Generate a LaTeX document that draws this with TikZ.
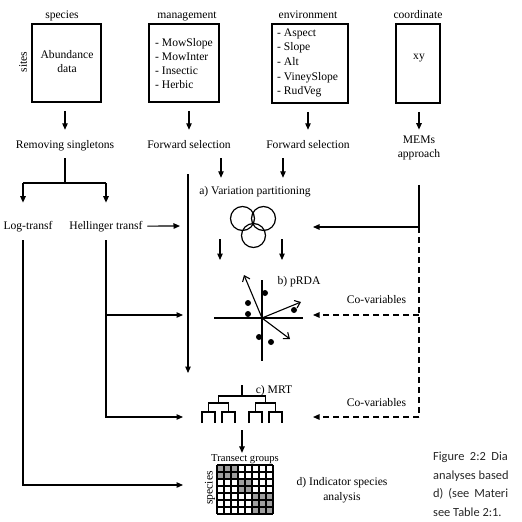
\documentclass[tikz,border=0pt]{standalone}
\usepackage{fontspec}
\setmainfont{Liberation Serif}
\newfontfamily\capfont{Carlito}
\usetikzlibrary{arrows.meta,calc}
\begin{document}
\begin{tikzpicture}[x=1pt,y=-1pt,
  lbl/.style={font=\fontsize{11.6}{14.3}\selectfont, inner sep=0pt},
  lblb/.style={font=\fontsize{11.6}{14.6}\selectfont, inner sep=0pt},
  small/.style={font=\fontsize{10.6}{12}\selectfont, inner sep=0pt},
  captext/.style={font=\capfont\fontsize{12.4}{15}\selectfont, inner sep=0pt, anchor=base west, text=black!85},
  databox/.style={draw, line width=1.8pt, inner sep=0pt},
  ln/.style={line width=1.2pt},
  arr/.style={line width=1.2pt, -{Triangle[length=6.5pt,width=5.5pt]}},
  barb/.style={line width=1.1pt, -{Straight Barb[length=5pt,width=8pt]}},
  dsh/.style={dash pattern=on 6pt off 4pt},
  circ/.style={circle, draw, line width=1.2pt, minimum size=24pt, inner sep=0pt},
  dot/.style={circle, fill=black, minimum size=6pt, inner sep=0pt},
  cell/.style={fill=black!38}
]
\useasboundingbox (0,0) rectangle (522,522);

% ---- headers
\node[lbl,anchor=base] (hsp) at (62,18) {species};
\node[lbl,anchor=base] (hmg) at (187,18) {management};
\node[lbl,anchor=base] (hen) at (308,18) {environment};
\node[lbl,anchor=base] (hco) at (418,18) {coordinate};

% ---- data boxes
\node[databox, minimum width=69pt, minimum height=78pt] (spbox) at (66.5,63) {};
\node[lbl,align=center] (abd) at (67,61.5) {Abundance\\data};
\node[lbl,rotate=90] (sites) at (23,62) {sites};

\node[databox, minimum width=70pt, minimum height=78pt] (mgbox) at (184,63) {};
\node[lbl,align=left,anchor=west] (mgl) at (155,63.5) {- MowSlope\\- MowInter\\- Insectic\\- Herbic};

\node[databox, minimum width=76pt, minimum height=79pt] (enbox) at (310,63.5) {};
\node[lblb,align=left,anchor=west] (enl) at (277,63) {- Aspect\\- Slope\\- Alt\\- VineySlope\\- RudVeg};

\node[databox, minimum width=44pt, minimum height=79pt] (cobox) at (418,63.5) {};
\node[lbl] (xy) at (419,58) {xy};

% ---- second row
\node[lbl,anchor=base] (rs) at (65,148) {Removing singletons};
\node[lbl,anchor=base] (fs1) at (189,148) {Forward selection};
\node[lbl,anchor=base] (fs2) at (308,148) {Forward selection};
\node[lbl,align=center] (mem) at (419,148) {MEMs\\approach};

\draw[arr, shorten <=8pt, shorten >=10pt] (rs.north |- spbox.south) -- (rs.north);
\draw[arr, shorten <=8pt, shorten >=10pt] (fs1.north |- mgbox.south) -- (fs1.north);
\draw[arr, shorten <=8pt, shorten >=10pt] (fs2.north |- enbox.south) -- (fs2.north);
\draw[arr, shorten <=8pt, shorten >=6pt] (mem.north |- cobox.south) -- (mem.north);

% ---- species branch
\coordinate (split) at (65,183);
\coordinate (spL) at (23,183);
\coordinate (spR) at (106,183);
\draw[ln, shorten <=7.5pt] (rs.south) -- (split);
\draw[ln] (spL) -- (spR);
\node[lbl,anchor=base] (logt) at (28,229) {Log-transf};
\node[lbl,anchor=base] (hell) at (106,229) {Hellinger transf};
\draw[arr, shorten >=18pt] (spL) -- (spL |- logt.north);
\draw[arr, shorten >=18pt] (spR) -- (spR |- hell.north);

% ---- left connectors
\coordinate (vpin) at (180,226);
\coordinate (h1) at (106,315);
\coordinate (h1end) at (183,315);
\coordinate (h2end) at (183,417);
\coordinate (logend) at (183,485);
\draw[arr, shorten <=4.5pt] (hell.east) -- (vpin);
\draw[arr, shorten <=8.5pt] (hell.south) |- (h2end);
\draw[arr] (h1) -- (h1end);
\draw[arr, shorten <=8.5pt] (spL |- logt.south) |- (logend);

% ---- long vertical line
\coordinate (vtop) at (188,174);
\coordinate (vbot) at (188,373);
\draw[arr] (vtop) -- (vbot);

% ---- a) variation partitioning
\node[lbl,anchor=base] (vp) at (255,194) {a) Variation partitioning};
\coordinate (a1) at (221,158);
\coordinate (a2) at (283,158);
\draw[arr, shorten >=8pt] (a1) -- (a1 |- vp.north);
\draw[arr, shorten >=8pt] (a2) -- (a2 |- vp.north);
\node[circ] (c1) at (242.5,218.5) {};
\node[circ] (c2) at (263.5,218.5) {};
\node[circ] (c3) at (253.5,235.5) {};

% ---- b) pRDA
\coordinate (o) at (262,318);
\coordinate (rdatop) at (262,260);
\coordinate (d1) at (220,239);
\coordinate (d2) at (282,239);
\draw[arr] (d1) -- (d1 |- rdatop);
\draw[arr] (d2) -- (d2 |- rdatop);
\node[lbl,anchor=base] (rdal) at (299,284) {b) pRDA};
\coordinate (axL) at (214,318);
\coordinate (axR) at (303,318);
\coordinate (axT) at (262,280);
\coordinate (axB) at (262,361);
\draw[ln] (axL) -- (axR);
\draw[ln] (axT) -- (axB);
\coordinate (v1) at (244,275);
\coordinate (v2) at (301,302);
\coordinate (v3) at (290,339);
\draw[barb] (o) -- (v1);
\draw[barb] (o) -- (v2);
\draw[barb] (o) -- (v3);
\node[dot] (p1) at (265,293) {};
\node[dot] (p2) at (248,303) {};
\node[dot] (p3) at (248,314) {};
\node[dot] (p4) at (294,310) {};
\node[dot] (p5) at (259,337) {};
\node[dot] (p6) at (271,342) {};

% ---- MEMs / co-variables
\coordinate (mj) at (419,227);
\coordinate (mend) at (313,227);
\coordinate (dj1) at (419,315);
\coordinate (dj2) at (419,417);
\coordinate (cv1end) at (313,315);
\coordinate (cv2end) at (313,417);
\draw[ln, shorten <=24.5pt] (mem.south) -- (mj);
\draw[arr] (mj) -- (mend);
\draw[ln, dsh] (mj) -- (dj2);
\draw[arr, dsh] (dj1) -- (cv1end);
\draw[arr, dsh] (dj2) -- (cv2end);
\node[lbl,anchor=base] (cv1) at (376.5,303) {Co-variables};
\node[lbl,anchor=base] (cv2) at (376.5,406) {Co-variables};

% ---- c) MRT tree
\node[lbl,anchor=base] (mrtl) at (274,393) {c) MRT};
\coordinate (root) at (242,385);
\draw[ln] (root) -- (242,396);
\draw[ln] (218.5,403) -- (218.5,396) -- (265.5,396) -- (265.5,403);
\draw[ln] (208.5,412) -- (208.5,403) -- (228.5,403) -- (228.5,412);
\draw[ln] (255.5,412) -- (255.5,403) -- (275.5,403) -- (275.5,412);
\foreach \c in {208.5,228.5,255.5,275.5}{
  \draw[ln] (\c-6.5,423) -- (\c-6.5,412) -- (\c+6.5,412) -- (\c+6.5,423);
}

% ---- transect groups / grid
\node[small,anchor=base] (tg) at (245,461) {Transect groups};
\coordinate (treebot) at (242,430);
\draw[arr, shorten >=1pt] (treebot) -- (treebot |- tg.north);
\node[lbl,rotate=90] (spv) at (210,488) {species};
\node[minimum width=56pt, minimum height=49pt, inner sep=0pt] (grid) at (245,489.5) {};
\fill[cell] (217,465) rectangle (238,479);
\fill[cell] (238,479) rectangle (252,493);
\fill[cell] (252,493) rectangle (273,514);
\foreach \i in {0,...,8}{ \draw[line width=1.1pt] (217+7*\i,465) -- (217+7*\i,514); }
\foreach \j in {0,...,7}{ \draw[line width=1.1pt] (217,465+7*\j) -- (273,465+7*\j); }

\node[lblb,align=center] (isa) at (342,490.5) {d) Indicator species\\analysis};

% ---- caption (cut at page edge)
\node[captext] (cap1) at (433,460) {Figure\hspace{0.45em}2:2\hspace{0.45em}Dia};
\node[captext] (cap2) at (433,479) {analyses based};
\node[captext] (cap3) at (433,497.5) {d)\hspace{0.4em}(see\hspace{0.4em}Materi};
\node[captext] (cap4) at (433,516) {see Table 2:1.};
\end{tikzpicture}
\end{document}
